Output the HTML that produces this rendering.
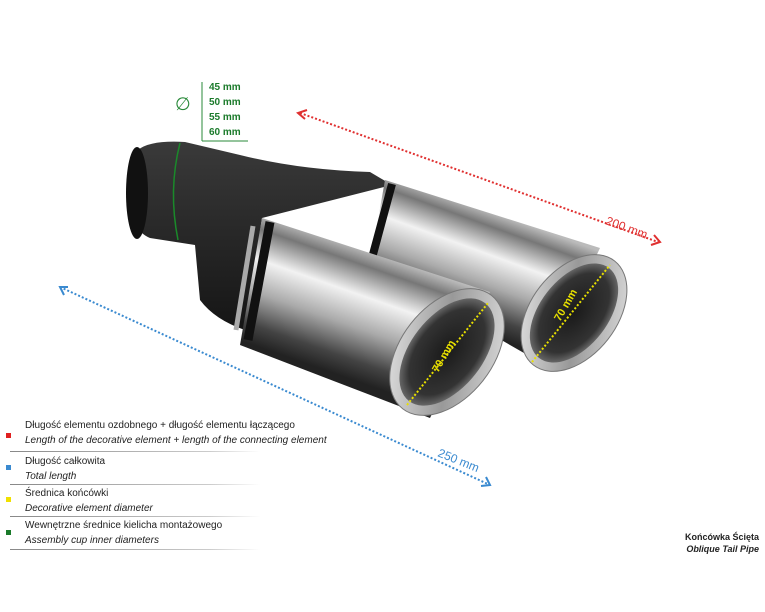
<!DOCTYPE html>
<html><head><meta charset="utf-8"><style>
html,body{margin:0;padding:0;background:#fff;}
body{width:765px;height:612px;position:relative;overflow:hidden;font-family:"Liberation Sans",sans-serif;}
.lg{position:absolute;left:25px;font-size:10px;color:#222;line-height:15px;}
.lg i{display:block}
.sq{position:absolute;left:6px;width:5px;height:5px}
.ln{position:absolute;left:10px;width:250px;height:1px;background:linear-gradient(90deg,#888,#ccc 80%,#fff)}
</style></head><body>
<svg width="765" height="612" style="position:absolute;left:0;top:0">
<defs>
<linearGradient id="chF" gradientUnits="userSpaceOnUse" x1="372" y1="252" x2="330" y2="372">
<stop offset="0" stop-color="#bbb"/><stop offset="0.12" stop-color="#777"/><stop offset="0.35" stop-color="#f2f2f2"/><stop offset="0.6" stop-color="#aaa"/><stop offset="0.85" stop-color="#444"/><stop offset="1" stop-color="#222"/></linearGradient>
<linearGradient id="chB" gradientUnits="userSpaceOnUse" x1="492" y1="212" x2="452" y2="322">
<stop offset="0" stop-color="#bbb"/><stop offset="0.12" stop-color="#777"/><stop offset="0.35" stop-color="#f2f2f2"/><stop offset="0.6" stop-color="#aaa"/><stop offset="0.85" stop-color="#444"/><stop offset="1" stop-color="#222"/></linearGradient>
<linearGradient id="rim" x1="0" y1="0" x2="1" y2="1"><stop offset="0" stop-color="#f0f0f0"/><stop offset="0.5" stop-color="#999"/><stop offset="1" stop-color="#e8e8e8"/></linearGradient>
<linearGradient id="bk" x1="0" y1="0" x2="0" y2="1"><stop offset="0" stop-color="#3a3a3a"/><stop offset="1" stop-color="#151515"/></linearGradient>
<radialGradient id="mesh"><stop offset="0" stop-color="#1a1a1a"/><stop offset="0.8" stop-color="#333"/><stop offset="1" stop-color="#666"/></radialGradient>
</defs>
<path d="M138,150 Q150,140 185,142 L240,155 Q300,170 370,172 L392,185 L262,218 L245,330 Q215,320 200,300 L195,245 L150,238 Q130,230 130,195 Z" fill="url(#bk)"/>
<ellipse cx="137" cy="193" rx="11" ry="46" fill="#111"/>
<path d="M180,143 Q168,190 178,240" stroke="#1a8a2a" stroke-width="1.5" fill="none"/>
<!-- back tip -->
<path d="M385,180 L600,248 L545,365 L370,265 Z" fill="url(#chB)"/>
<path d="M392,184 L372,258" stroke="#111" stroke-width="8"/>
<g transform="translate(574,313) rotate(-52)"><ellipse rx="66" ry="43" fill="url(#rim)" stroke="#777"/><ellipse rx="57" ry="34" fill="url(#mesh)"/></g>
<!-- front tip -->
<path d="M262,218 L490,292 L430,418 L240,345 Z" fill="url(#chF)"/>
<path d="M270,222 L248,340" stroke="#111" stroke-width="9"/>
<path d="M253,226 L236,330" stroke="#aaa" stroke-width="5"/>
<g transform="translate(447,352) rotate(-52)"><ellipse rx="72" ry="46" fill="url(#rim)" stroke="#777"/><ellipse rx="62" ry="36" fill="url(#mesh)"/></g>
<line x1="407" y1="405" x2="488" y2="303" stroke="#e8e000" stroke-width="2" stroke-dasharray="2,2"/>
<text transform="translate(438,373) rotate(-60)" fill="#e8e000" font-size="11" font-weight="bold">70 mm</text>
<line x1="532" y1="362" x2="610" y2="265" stroke="#e8e000" stroke-width="2" stroke-dasharray="2,2"/>
<text transform="translate(560,322) rotate(-60)" fill="#e8e000" font-size="11" font-weight="bold">70 mm</text>
<line x1="300" y1="113" x2="658" y2="242" stroke="#e03030" stroke-width="2" stroke-dasharray="2,2"/>
<path d="M307,110 L298,113 L305,119" stroke="#e03030" stroke-width="2" fill="none"/>
<path d="M651,245 L660,242 L654,235" stroke="#e03030" stroke-width="2" fill="none"/>
<text transform="translate(605,224) rotate(20)" fill="#e03030" font-size="12">200 mm</text>
<line x1="60" y1="287" x2="490" y2="485" stroke="#3a8ad0" stroke-width="2" stroke-dasharray="2,2"/>
<path d="M68,287 L60,287 L64,295" stroke="#3a8ad0" stroke-width="2" fill="none"/>
<path d="M481,486 L490,485 L486,477" stroke="#3a8ad0" stroke-width="2" fill="none"/>
<text transform="translate(437,456) rotate(22)" fill="#3a8ad0" font-size="12">250 mm</text>
<text x="175" y="110" fill="#2a8a3a" font-size="18">∅</text>
<line x1="202" y1="82" x2="202" y2="141" stroke="#2a8a3a"/>
<line x1="202" y1="141" x2="248" y2="141" stroke="#2a8a3a"/>
<g fill="#1a7a2a" font-size="10" font-weight="bold"><text x="209" y="90">45 mm</text><text x="209" y="105">50 mm</text><text x="209" y="120">55 mm</text><text x="209" y="135">60 mm</text></g>
</svg>
<div class="sq" style="top:433px;background:#e02020"></div>
<div class="lg" style="top:418px">Długość elementu ozdobnego + długość elementu łączącego<i>Length of the decorative element + length of the connecting element</i></div>
<div class="ln" style="top:451px"></div>
<div class="sq" style="top:465px;background:#3a8ad0"></div>
<div class="lg" style="top:454px">Długość całkowita<i>Total length</i></div>
<div class="ln" style="top:484px"></div>
<div class="sq" style="top:497px;background:#f0e000"></div>
<div class="lg" style="top:486px">Średnica końcówki<i>Decorative element diameter</i></div>
<div class="ln" style="top:516px"></div>
<div class="sq" style="top:530px;background:#1a7a2a"></div>
<div class="lg" style="top:518px">Wewnętrzne średnice kielicha montażowego<i>Assembly cup inner diameters</i></div>
<div class="ln" style="top:549px"></div>
<div style="position:absolute;right:6px;top:531px;text-align:right;font-size:9px;font-weight:bold;color:#222;line-height:12px">Końcówka Ścięta<br><i>Oblique Tail Pipe</i></div>
</body></html>
